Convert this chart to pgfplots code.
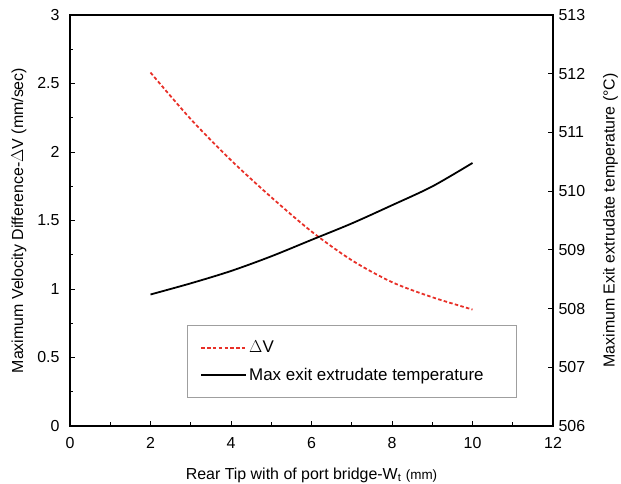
\documentclass[border=0pt]{standalone}
\usepackage{pgfplots}
\pgfplotsset{compat=1.18}
\usepackage{fontspec}
\setmainfont{Liberation Sans}

\definecolor{dvred}{RGB}{232, 48, 40}

\pgfplotsset{
  common/.style={
    scale only axis, width=483bp, height=411bp,
    xmin=0, xmax=12,
    tick align=inside,
    major tick length=5bp, minor tick length=3.5bp,
    tick style={black, line width=0.9pt},
    axis line style={line width=2.1pt},
    tick label style={font=\fontsize{16}{18}\selectfont},
    label style={font=\fontsize{16}{19}\selectfont},
    /pgf/number format/assume math mode=true,
  },
}

\begin{document}
\begin{tikzpicture}
\begin{axis}[
  common, name=ax,
  ymin=0, ymax=3,
  xtick={0,2,...,12}, minor xtick={1,3,...,11},
  ytick={0,0.5,...,3}, minor ytick={0.25,0.75,...,2.75},
  xtick pos=bottom, ytick pos=left,
  xticklabel style={yshift=-8bp},
  yticklabel style={xshift=-7bp},
  xlabel={Rear Tip with of port bridge-W\textsubscript{t} {\fontsize{13.5}{15}\selectfont(mm)}},
  ylabel={Maximum Velocity Difference-$\Delta$V (mm/sec)},
  xlabel style={yshift=-12bp},
  ylabel style={yshift=4bp},
]
\addplot[dvred, smooth, line width=1.8pt, dash pattern=on 3.5bp off 2.3bp]
  coordinates {(2,2.58) (3,2.24) (4,1.94) (5,1.67) (6,1.42) (7,1.21)
               (8,1.05) (9,0.94) (10,0.85)};
\end{axis}
\begin{axis}[
  common,
  ymin=506, ymax=513,
  ytick={506,507,...,513},
  axis x line=none, axis y line*=right,
  yticklabel style={xshift=2bp},
  ylabel={Maximum Exit extrudate temperature (\textdegree C)},
  ylabel style={yshift=-11bp},
  legend style={at={(0.242,0.068)}, anchor=south west,
                draw=gray!75, line width=1.1pt,
                font=\fontsize{17}{20}\selectfont,
                inner xsep=13bp, inner ysep=13.5bp,
                row sep=10bp},
  legend cell align=left,
  legend image code/.code={\draw[#1, line width=1.8pt] (0bp,0bp) -- (45bp,0bp);},
]
\addlegendimage{dvred, dash pattern=on 3.5bp off 2.3bp}
\addlegendentry{\makebox[252bp][l]{$\Delta$V}}
\addplot[black, smooth, line width=1.8pt]
  coordinates {(2,508.24) (3,508.43) (4,508.64) (5,508.89) (6,509.17)
               (7,509.45) (8,509.76) (9,510.08) (10,510.48)};
\addlegendentry{Max exit extrudate temperature}
\end{axis}
\pgfresetboundingbox
\path (ax.south west) ++(-70bp,-58bp) rectangle ++(621bp,484bp);
\end{tikzpicture}
\end{document}
